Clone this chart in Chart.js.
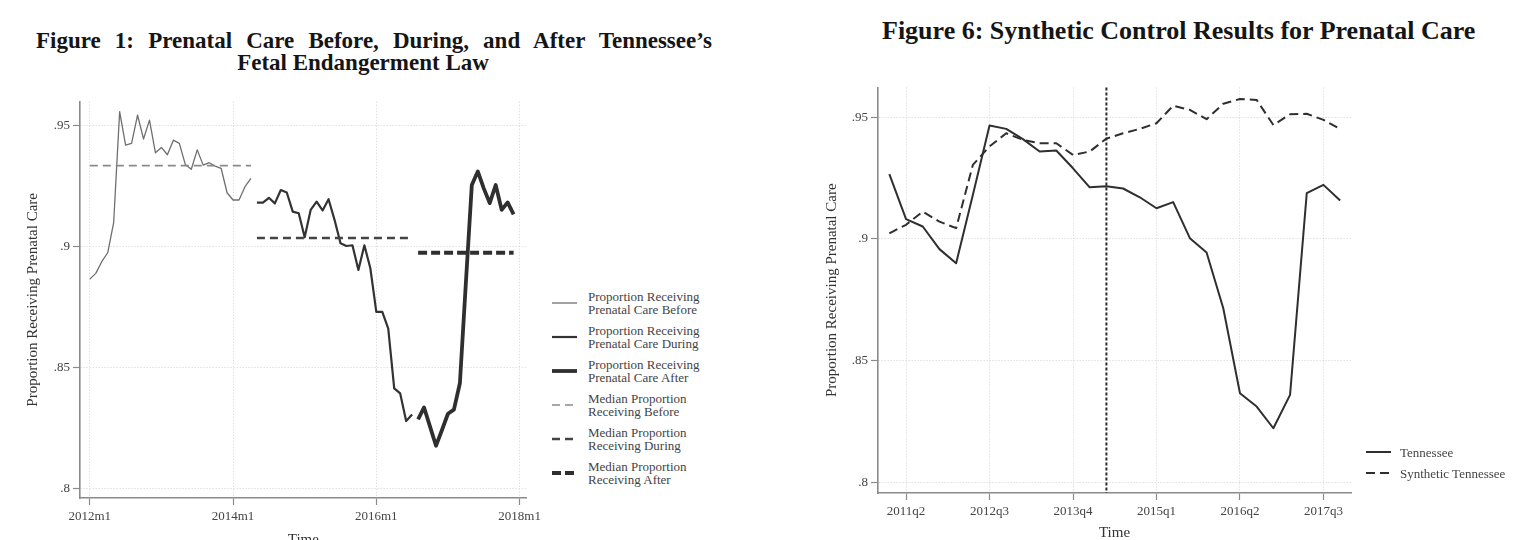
<!DOCTYPE html>
<html><head><meta charset="utf-8">
<script src="https://cdn.jsdelivr.net/npm/chart.js@4.4.1/dist/chart.umd.min.js"></script>
<style>
html,body{margin:0;padding:0;width:1513px;height:540px;overflow:hidden;background:#fff;}
.abs{position:absolute;}
.ttl{font-family:"Liberation Serif","Times New Roman",serif;font-weight:bold;color:#151515;}
.leg{font-family:"Liberation Serif","Times New Roman",serif;font-size:13px;line-height:13px;color:#444;white-space:nowrap;}
canvas{position:absolute;top:0;}
</style></head><body>
<div class="abs ttl" style="left:36px;top:29px;width:676px;font-size:23px;line-height:23px;text-align:justify;text-align-last:justify;">Figure 1: Prenatal Care Before, During, and After Tennessee’s</div>
<div class="abs ttl" style="left:163px;top:51px;width:400px;font-size:23px;line-height:23px;text-align:center;">Fetal Endangerment Law</div>
<div class="abs ttl" style="left:882px;top:18px;font-size:26px;line-height:26px;white-space:nowrap;">Figure 6: Synthetic Control Results for Prenatal Care</div>
<canvas id="left" width="545" height="560" style="left:0px;"></canvas>
<canvas id="right" width="723" height="560" style="left:790px;"></canvas>
<div id="legends"></div>
<script>
// ---------- Figure 1 data (monthly, index 0 = 2012m1) ----------
const monthTickValues = [0, 24, 48, 72];
const monthTickLabels = ['2012m1', '2014m1', '2016m1', '2018m1'];
const beforeStartMonth = 0;
const beforeValues = [0.8866, 0.8890, 0.8938, 0.8975, 0.9100, 0.9558, 0.9420, 0.9427, 0.9544, 0.9445,
  0.9523, 0.9388, 0.9410, 0.9380, 0.9440, 0.9427, 0.9340, 0.9320, 0.9400, 0.9337,
  0.9347, 0.9333, 0.9324, 0.9223, 0.9193, 0.9193, 0.9248, 0.9282];
const duringStartMonth = 28;
const duringValues = [0.9182, 0.9182, 0.9202, 0.9179, 0.9234, 0.9224, 0.9145, 0.9138, 0.9039, 0.9152,
  0.9186, 0.9150, 0.9196, 0.9111, 0.9014, 0.9003, 0.9006, 0.8904, 0.9006, 0.8911,
  0.8731, 0.8731, 0.8662, 0.8415, 0.8394, 0.8280, 0.8307];
const afterStartMonth = 55;
const afterValues = [0.8287, 0.8336, 0.8257, 0.8178, 0.8243, 0.8310, 0.8327, 0.8436, 0.8850, 0.9255,
  0.9311, 0.9241, 0.9180, 0.9255, 0.9152, 0.9183, 0.9134];
const medianBefore = 0.9335;
const medianDuring = 0.9036;
const medianAfter = 0.8975;
const yTickValues = [0.80, 0.85, 0.90, 0.95];
const yTickLabels = ['.8', '.85', '.9', '.95'];

// ---------- Figure 6 data (quarterly) ----------
const quarters = ['2011q1','2011q2','2011q3','2011q4','2012q1','2012q2','2012q3','2012q4',
  '2013q1','2013q2','2013q3','2013q4','2014q1','2014q2','2014q3','2014q4',
  '2015q1','2015q2','2015q3','2015q4','2016q1','2016q2','2016q3','2016q4',
  '2017q1','2017q2','2017q3','2017q4'];
const quarterTickLabels = ['2011q2', '2012q3', '2013q4', '2015q1', '2016q2', '2017q3'];
const tennessee = [0.9266, 0.9081, 0.9051, 0.8958, 0.8900, 0.9180, 0.9466, 0.9452,
  0.9410, 0.9359, 0.9363, 0.9290, 0.9212, 0.9216, 0.9207, 0.9171,
  0.9126, 0.9151, 0.9003, 0.8944, 0.8715, 0.8366, 0.8311, 0.8222,
  0.8359, 0.9188, 0.9222, 0.9158];
const syntheticTennessee = [0.9023, 0.9058, 0.9112, 0.9071, 0.9044, 0.9304, 0.9380, 0.9434,
  0.9407, 0.9393, 0.9393, 0.9345, 0.9359, 0.9412, 0.9434, 0.9452,
  0.9475, 0.9547, 0.9530, 0.9492, 0.9555, 0.9575, 0.9571, 0.9468,
  0.9512, 0.9514, 0.9489, 0.9451];
const treatmentQuarter = '2014q2';

// ---------- styles ----------
const FONT = '"Liberation Serif","Times New Roman",serif';
const sBefore = {color:'#6f6f6f', width:1.3, dash:[]};
const sDuring = {color:'#333333', width:2.2, dash:[]};
const sAfter = {color:'#2f2f2f', width:3.8, dash:[]};
const sMedBefore = {color:'#8a8a8a', width:1.6, dash:[8,5]};
const sMedDuring = {color:'#444444', width:2.6, dash:[8,5]};
const sMedAfter = {color:'#2f2f2f', width:4.2, dash:[9,4]};
const sTN = {color:'#2f2f2f', width:2, dash:[]};
const sSyn = {color:'#2f2f2f', width:2, dash:[9,5]};

function seg(values, start) { return values.map((v, i) => ({x: start + i, y: v})); }
function hline(v, x0, x1) { return [{x: x0, y: v}, {x: x1, y: v}]; }
function ds(label, data, s) {
  return {label, data, borderColor: s.color, borderWidth: s.width, borderDash: s.dash,
    pointRadius: 0, pointHoverRadius: 0, tension: 0, fill: false, borderCapStyle: 'butt', borderJoinStyle: 'round'};
}

function yAxis(min, max, width, titlePad) {
  return {
    type: 'linear', min, max,
    afterBuildTicks: s => { s.ticks = yTickValues.map(v => ({value: v})); },
    afterFit: s => { s.width = width; },
    ticks: {callback: v => { const i = yTickValues.findIndex(t => Math.abs(t - v) < 1e-9); return i >= 0 ? yTickLabels[i] : ''; },
      font: {family: FONT, size: 13}, color: '#444', padding: 3},
    grid: {color: '#d2d2d2', lineWidth: 1, tickLength: 7, tickColor: '#8a8a8a', tickWidth: 1.2},
    border: {color: '#8a8a8a', width: 1.6, dash: [1, 2]},
    title: {display: true, text: 'Proportion Receiving Prenatal Care', font: {family: FONT, size: 15}, color: '#333',
      padding: {top: titlePad, bottom: 0}}
  };
}
function xAxis(min, max, height, tickVals, labelFn, titlePadBottom) {
  return {
    type: 'linear', min, max,
    afterBuildTicks: s => { s.ticks = tickVals.map(v => ({value: v})); },
    afterFit: s => { s.height = height; },
    ticks: {callback: labelFn, font: {family: FONT, size: 13}, color: '#444', padding: 4, maxRotation: 0, autoSkip: false},
    grid: {color: '#d2d2d2', lineWidth: 1, tickLength: 7, tickColor: '#8a8a8a', tickWidth: 1.2},
    border: {color: '#8a8a8a', width: 1.6, dash: [1, 2]},
    title: {display: true, text: 'Time', font: {family: FONT, size: 15}, color: '#333', padding: {top: 0, bottom: titlePadBottom}}
  };
}

// ---------- Figure 1 ----------
new Chart(document.getElementById('left'), {
  type: 'line',
  data: {datasets: [
    ds('Median Proportion Receiving Before', hline(medianBefore, beforeStartMonth, beforeStartMonth + beforeValues.length - 1), sMedBefore),
    ds('Median Proportion Receiving During', hline(medianDuring, duringStartMonth, duringStartMonth + duringValues.length - 1), sMedDuring),
    ds('Median Proportion Receiving After', hline(medianAfter, afterStartMonth, afterStartMonth + afterValues.length - 1), sMedAfter),
    ds('Proportion Receiving Prenatal Care Before', seg(beforeValues, beforeStartMonth), sBefore),
    ds('Proportion Receiving Prenatal Care During', seg(duringValues, duringStartMonth), sDuring),
    ds('Proportion Receiving Prenatal Care After', seg(afterValues, afterStartMonth), sAfter)
  ]},
  options: {
    responsive: false, animation: false,
    layout: {padding: {left: 0, right: 7.5, top: 101.7, bottom: 0}},
    plugins: {legend: {display: false}, tooltip: {enabled: false}},
    scales: {
      x: xAxis(-1.64, 73.2, 62, monthTickValues, v => { const i = monthTickValues.indexOf(v); return i >= 0 ? monthTickLabels[i] : ''; }, 11),
      y: yAxis(0.7962, 0.9599, 80, 24)
    }
  }
});

// ---------- Figure 6 ----------
const treatLine = {
  id: 'treatLine',
  beforeDatasetsDraw(chart) {
    const xs = chart.scales.x, {top, bottom} = chart.chartArea, ctx = chart.ctx;
    const px = xs.getPixelForValue(quarters.indexOf(treatmentQuarter));
    ctx.save(); ctx.strokeStyle = '#2a2a2a'; ctx.lineWidth = 2; ctx.setLineDash([3, 2]);
    ctx.beginPath(); ctx.moveTo(px, top); ctx.lineTo(px, bottom); ctx.stroke(); ctx.restore();
  }
};
const quarterTickIdx = quarterTickLabels.map(q => quarters.indexOf(q));
new Chart(document.getElementById('right'), {
  type: 'line',
  data: {datasets: [
    ds('Tennessee', tennessee.map((v, i) => ({x: i, y: v})), sTN),
    ds('Synthetic Tennessee', syntheticTennessee.map((v, i) => ({x: i, y: v})), sSyn)
  ]},
  options: {
    responsive: false, animation: false,
    layout: {padding: {left: 0, right: 162, top: 87.5, bottom: 0}},
    plugins: {legend: {display: false}, tooltip: {enabled: false}},
    scales: {
      x: xAxis(-0.68, 27.65, 67, quarterTickIdx, v => { const i = quarterTickIdx.indexOf(v); return i >= 0 ? quarterTickLabels[i] : ''; }, 18),
      y: yAxis(0.7956, 0.9622, 88, 33)
    }
  },
  plugins: [treatLine]
});

// ---------- legends (HTML text) ----------
const leftLegendLabels = [
  ['Proportion Receiving', 'Prenatal Care Before'],
  ['Proportion Receiving', 'Prenatal Care During'],
  ['Proportion Receiving', 'Prenatal Care After'],
  ['Median Proportion', 'Receiving Before'],
  ['Median Proportion', 'Receiving During'],
  ['Median Proportion', 'Receiving After']];
const leftLegendStyles = [sBefore, sDuring, sAfter, sMedBefore, sMedDuring, sMedAfter];
const rightLegendLabels = [['Tennessee'], ['Synthetic Tennessee']];
const rightLegendStyles = [sTN, sSyn];
const host = document.getElementById('legends');
function addItem(lines, s, lineX, lineLen, textX, cy) {
  const svgNS = 'http://www.w3.org/2000/svg';
  const svg = document.createElementNS(svgNS, 'svg');
  svg.setAttribute('width', lineLen + 2); svg.setAttribute('height', 12);
  svg.style.position = 'absolute'; svg.style.left = lineX + 'px'; svg.style.top = (cy - 6) + 'px';
  const ln = document.createElementNS(svgNS, 'line');
  ln.setAttribute('x1', 0); ln.setAttribute('x2', lineLen); ln.setAttribute('y1', 6); ln.setAttribute('y2', 6);
  ln.setAttribute('stroke', s.color); ln.setAttribute('stroke-width', s.width);
  if (s.dash.length) ln.setAttribute('stroke-dasharray', s.dash.join(','));
  svg.appendChild(ln); host.appendChild(svg);
  const d = document.createElement('div');
  d.className = 'abs leg';
  d.style.left = textX + 'px'; d.style.top = (cy - lines.length * 6.5) + 'px';
  d.innerHTML = lines.join('<br>');
  host.appendChild(d);
}
leftLegendLabels.forEach((l, i) => addItem(l, leftLegendStyles[i], 552, 25, 588, 303 + i * 34));
rightLegendLabels.forEach((l, i) => addItem(l, rightLegendStyles[i], 1366, 25, 1400, 452 + i * 21));
</script>
</body></html>
